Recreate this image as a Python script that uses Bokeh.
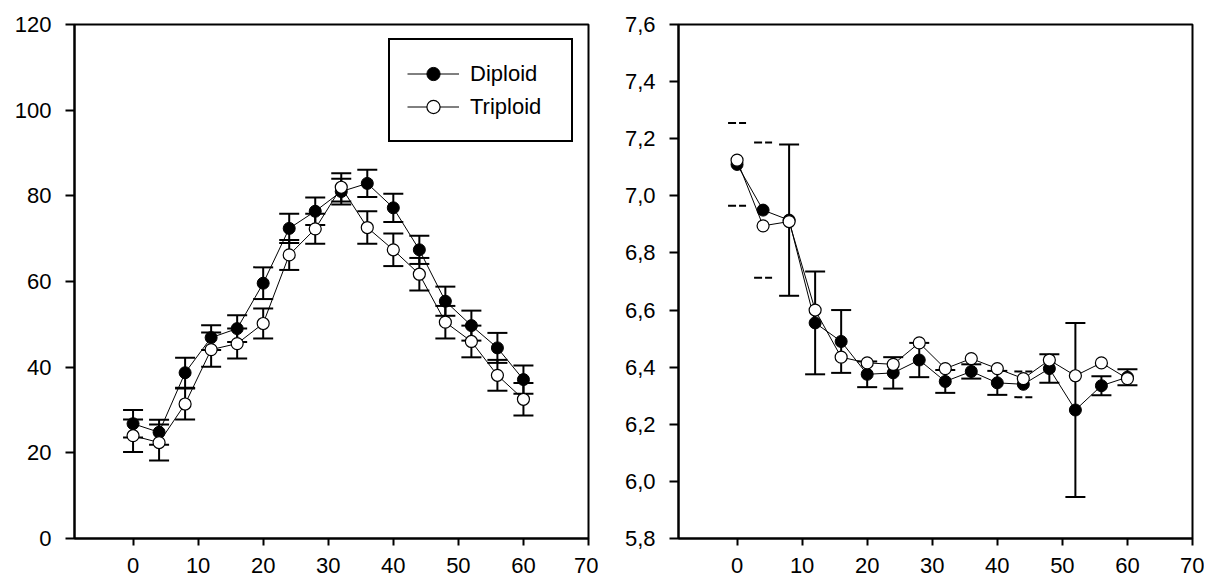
from bokeh.plotting import figure
from bokeh.layouts import row
from bokeh.models import (FixedTicker, Range1d, Legend, LegendItem,
                          CustomJSTickFormatter)
from bokeh.embed import file_html
from bokeh.resources import INLINE

# ---------------- data ----------------
time = [0, 4, 8, 12, 16, 20, 24, 28, 32, 36, 40, 44, 48, 52, 56, 60]

# left panel
dip_left = [26.8, 24.8, 38.7, 46.9, 49.0, 59.6, 72.4, 76.4, 81.0, 82.9, 77.2, 67.4, 55.4, 49.7, 44.5, 37.1]
dip_left_err = [3.2, 2.9, 3.5, 2.9, 3.1, 3.7, 3.4, 3.2, 3.0, 3.2, 3.3, 3.3, 3.4, 3.5, 3.5, 3.3]
tri_left = [24.0, 22.4, 31.4, 44.1, 45.5, 50.2, 66.2, 72.3, 82.0, 72.6, 67.4, 61.7, 50.5, 46.0, 38.1, 32.5]
tri_left_err = [3.8, 4.2, 3.6, 4.0, 3.5, 3.5, 3.5, 3.5, 3.3, 3.8, 3.8, 3.8, 3.8, 3.7, 3.6, 3.8]

# right panel
dip_right = [7.11, 6.95, 6.915, 6.555, 6.49, 6.375, 6.38, 6.425, 6.35, 6.385, 6.345, 6.34, 6.395, 6.25, 6.335, 6.365]
dip_right_err = [0.145, 0.237, 0.265, 0.18, 0.11, 0.045, 0.055, 0.06, 0.04, 0.025, 0.042, 0.045, 0.05, 0.305, 0.033, 0.028]
dip_right_stem = [False, False, True, True, True, True, True, True, True, True, True, False, True, True, True, True]
tri_right = [7.125, 6.895, 6.91, 6.60, 6.435, 6.415, 6.41, 6.485, 6.395, 6.43, 6.395, 6.36, 6.425, 6.37, 6.415, 6.36]
tri_right_err = None  # error bars hidden behind the markers

series_names = ["Diploid", "Triploid"]
x_ticks = [0, 10, 20, 30, 40, 50, 60, 70]
left_y_ticks = [0, 20, 40, 60, 80, 100, 120]
right_y_ticks = [5.8, 6.0, 6.2, 6.4, 6.6, 6.8, 7.0, 7.2, 7.4, 7.6]

FONT = "Liberation Sans"
FS = "22px"


def style(p, yticks):
    p.grid.visible = False
    p.outline_line_color = "black"
    p.outline_line_width = 2
    p.outline_line_alpha = 1
    p.xaxis.ticker = FixedTicker(ticks=x_ticks)
    p.yaxis.ticker = FixedTicker(ticks=yticks)
    for ax in (p.xaxis[0], p.yaxis[0]):
        ax.axis_line_color = "black"
        ax.axis_line_width = 2
        ax.major_tick_line_color = "black"
        ax.major_tick_line_width = 2
        ax.major_tick_in = 0
        ax.minor_tick_line_color = None
        ax.major_label_text_font = FONT
        ax.major_label_text_font_size = FS
        ax.major_label_text_color = "black"
    p.xaxis.major_tick_out = 7
    p.yaxis.major_tick_out = 9
    p.xaxis.major_label_standoff = 12
    p.yaxis.major_label_standoff = 14


def errorbars(p, x, y, e, stems=None, cap=20, lw=2):
    up = [a + b for a, b in zip(y, e)]
    lo = [a - b for a, b in zip(y, e)]
    if stems is None:
        stems = [True] * len(x)
    sx = [a for a, s in zip(x, stems) if s]
    s_up = [a for a, s in zip(up, stems) if s]
    s_lo = [a for a, s in zip(lo, stems) if s]
    p.segment(x0=sx, y0=s_lo, x1=sx, y1=s_up, line_color="black", line_width=lw)
    p.scatter(x=sx + sx, y=s_up + s_lo, marker="dash", size=cap,
              line_color="black", line_width=lw)
    hx = [a for a, s in zip(x, stems) if not s]
    h_up = [a for a, s in zip(up, stems) if not s]
    h_lo = [a for a, s in zip(lo, stems) if not s]
    if hx:
        p.scatter(x=hx + hx, y=h_up + h_lo, marker="dash", size=cap - 2,
                  line_color="black", line_width=lw, line_dash="8 3")


def panel(y1, e1, y2, e2, yr, yticks, bl, br, stems1=None, legend=False):
    p = figure(frame_width=514, frame_height=514,
               x_range=Range1d(-9, 70), y_range=Range1d(*yr),
               output_backend="svg", toolbar_location=None,
               min_border_left=bl, min_border_right=br,
               min_border_top=24, min_border_bottom=44)
    style(p, yticks)
    l1 = p.line(time, y1, line_color="black", line_width=1)
    errorbars(p, time, y1, e1, stems1)
    s1 = p.scatter(time, y1, size=12, fill_color="black", line_color="black", line_width=1)
    l2 = p.line(time, y2, line_color="black", line_width=1)
    if e2 is not None:
        errorbars(p, time, y2, e2)
    s2 = p.scatter(time, y2, size=12, fill_color="white", line_color="black", line_width=1.2)
    if legend:
        lg = Legend(items=[LegendItem(label=series_names[0], renderers=[l1, s1]),
                           LegendItem(label=series_names[1], renderers=[l2, s2])],
                    location=(314, 396))
        lg.glyph_width = 52
        lg.glyph_height = 33
        lg.label_height = 33
        lg.label_width = 84
        lg.label_standoff = 11
        lg.padding = 17
        lg.spacing = 0
        lg.margin = 0
        lg.border_line_color = "black"
        lg.border_line_width = 2
        lg.border_line_alpha = 1
        lg.background_fill_color = "white"
        lg.background_fill_alpha = 1
        lg.label_text_font = FONT
        lg.label_text_font_size = FS
        lg.label_text_color = "black"
        p.add_layout(lg)
    return p


p1 = panel(dip_left, dip_left_err, tri_left, tri_left_err, (0, 120), left_y_ticks,
           74, 10, legend=True)
p2 = panel(dip_right, dip_right_err, tri_right, tri_right_err, (5.8, 7.6), right_y_ticks,
           80, 12, stems1=dip_right_stem)
p2.yaxis.formatter = CustomJSTickFormatter(code="return tick.toFixed(1).replace('.', ',');")

layout = row(p1, p2)
open("out.html", "w").write(file_html(layout, INLINE))
